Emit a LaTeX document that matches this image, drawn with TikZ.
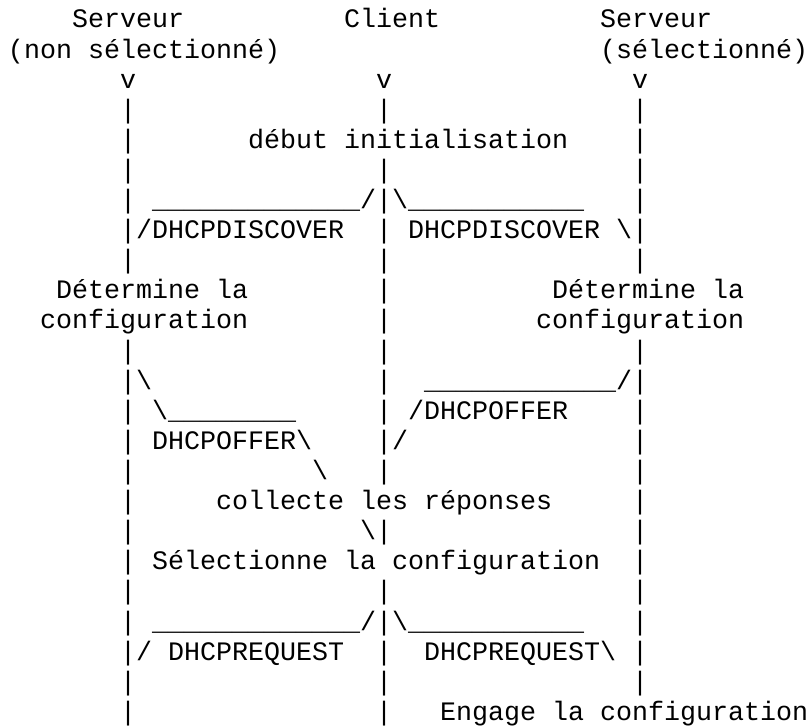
\documentclass[tikz,border=0pt]{standalone}
\usepackage{fontspec}
\setmonofont{Liberation Mono}
\usetikzlibrary{positioning}

\begin{document}
\begin{tikzpicture}[x=16pt,y=-30.1pt,
  asc/.style={anchor=base west,inner sep=0pt,outer sep=0pt,
    font=\ttfamily\fontsize{26.67}{30.1}\selectfont}]

  \useasboundingbox (-8pt,28pt) rectangle (801pt,-699pt);

  \node[asc] (srvA) at (4,0) {Serveur};
  \node[asc] (cli) at (21,0) {Client};
  \node[asc] (srvB) at (37,0) {Serveur};
  \node[asc] (srvAsub) at (0,1) {(non sélectionné)};
  \node[asc] (srvBsub) at (37,1) {(sélectionné)};
  \foreach \c/\n in {7/A,23/C,39/B}
    \node[asc] (v\n) at (\c,2) {v};

  \foreach \r in {3,4,5,6,7,8,11,12,13,14,15,16,17,18,19,20,21,22,23}
    \node[asc] (A\r) at (7,\r) {|};
  \foreach \r in {3,5,6,7,8,9,10,11,12,13,14,15,17,19,20,21,22,23}
    \node[asc] (C\r) at (23,\r) {|};
  \foreach \r in {3,4,5,6,7,8,11,12,13,14,15,16,17,18,19,20,21,22}
    \node[asc] (B\r) at (39,\r) {|};

  \node[asc] (init) at (15,4) {début initialisation};

  \node[asc] (discA) at (9,6) {\_\_\_\_\_\_\_\_\_\_\_\_\_/};
  \node[asc] (discB) at (24,6) {\textbackslash\_\_\_\_\_\_\_\_\_\_\_};
  \node[asc] (discAl) at (8,7) {/DHCPDISCOVER};
  \node[asc] (discBl) at (25,7) {DHCPDISCOVER \textbackslash};

  \node[asc] (detA) at (3,9) {Détermine la};
  \node[asc] (cfgA) at (2,10) {configuration};
  \node[asc] (detB) at (34,9) {Détermine la};
  \node[asc] (cfgB) at (33,10) {configuration};

  \node[asc] (offA1) at (8,12) {\textbackslash};
  \node[asc] (offA2) at (9,13) {\textbackslash\_\_\_\_\_\_\_\_};
  \node[asc] (offAl) at (9,14) {DHCPOFFER\textbackslash};
  \node[asc] (offA3) at (19,15) {\textbackslash};
  \node[asc] (offB1) at (26,12) {\_\_\_\_\_\_\_\_\_\_\_\_/};
  \node[asc] (offBl) at (25,13) {/DHCPOFFER};
  \node[asc] (offB2) at (24,14) {/};

  \node[asc] (coll) at (13,16) {collecte les réponses};
  \node[asc] (offA4) at (22,17) {\textbackslash};
  \node[asc] (sel) at (9,18) {Sélectionne la configuration};

  \node[asc] (reqA) at (9,20) {\_\_\_\_\_\_\_\_\_\_\_\_\_/};
  \node[asc] (reqB) at (24,20) {\textbackslash\_\_\_\_\_\_\_\_\_\_\_};
  \node[asc] (reqAl) at (8,21) {/ DHCPREQUEST};
  \node[asc] (reqBl) at (26,21) {DHCPREQUEST\textbackslash};

  \node[asc] (commit) at (27,23) {Engage la configuration};
\end{tikzpicture}
\end{document}
